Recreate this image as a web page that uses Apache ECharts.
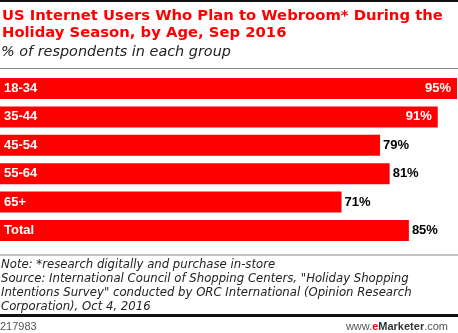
<!DOCTYPE html>
<html><head><meta charset="utf-8">
<script src="https://cdn.jsdelivr.net/npm/echarts@6/dist/echarts.min.js"></script>
<style>html,body{margin:0;padding:0;background:#fff}#c{width:458px;height:333px}</style>
</head><body><div id="c"></div>
<script>
var categories = ['18-34', '35-44', '45-54', '55-64', '65+', 'Total'];
var values = [95, 91, 79, 81, 71, 85];

var chart = echarts.init(document.getElementById('c'));
var FF = '"Liberation Sans", Arial, sans-serif';
var DV = '"DejaVu Sans", sans-serif';
var data = values.map(function (v) {
  var inside = v >= 90;
  return {
    value: v,
    label: {
      position: inside ? 'insideRight' : 'right',
      color: inside ? '#fff' : '#000',
      distance: inside ? 6 : 3
    }
  };
});
chart.setOption({
  animation: false,
  grid: { left: 0, right: 1, top: 74.3, height: 170.4, containLabel: false },
  xAxis: { type: 'value', min: 0, max: 95, show: false },
  yAxis: {
    type: 'category', data: categories, inverse: true, z: 10,
    axisLine: { show: false }, axisTick: { show: false },
    axisLabel: { inside: true, margin: 4, color: '#fff', fontWeight: 'bold', fontSize: 13, fontFamily: FF }
  },
  series: [{
    type: 'bar', data: data, barCategoryGap: '26%',
    itemStyle: { color: '#ff0000' },
    label: { show: true, formatter: '{c}%', fontWeight: 'bold', fontSize: 13, fontFamily: FF }
  }],
  graphic: [
    { type: 'rect', shape: { x: 0, y: 0, width: 458, height: 2 }, style: { fill: '#111' } },
    { type: 'text', left: 2, top: 8, style: { text: 'US Internet Users Who Plan to Webroom* During the\nHoliday Season, by Age, Sep 2016', fill: '#ff0000', font: 'bold 14.8px ' + DV, lineHeight: 17 } },
    { type: 'text', left: 1, top: 45, style: { text: '% of respondents in each group', fill: '#222', font: 'italic 14.4px ' + DV } },
    { type: 'rect', shape: { x: 0, y: 68, width: 458, height: 1 }, style: { fill: '#888' } },
    { type: 'rect', shape: { x: 0, y: 254.5, width: 458, height: 1 }, style: { fill: '#888' } },
    { type: 'text', left: 1, top: 258, style: { text: 'Note: *research digitally and purchase in-store\nSource: International Council of Shopping Centers, "Holiday Shopping\nIntentions Survey" conducted by ORC International (Opinion Research\nCorporation), Oct 4, 2016', fill: '#222', font: 'italic 11.7px ' + DV, lineHeight: 14 } },
    { type: 'rect', shape: { x: 0, y: 314, width: 458, height: 3 }, style: { fill: '#111' } },
    { type: 'text', left: 0, top: 321, style: { text: '217983', fill: '#555', font: '11px ' + FF } },
    { type: 'text', right: 10, top: 321, style: { text: '{a|www.}{b|e}{c|Marketer}{a|.com}', rich: {
      a: { fill: '#555', font: '11px ' + FF },
      b: { fill: '#ff0000', font: 'bold 11px ' + FF },
      c: { fill: '#333', font: 'bold 11px ' + FF }
    } } }
  ]
});
</script></body></html>
